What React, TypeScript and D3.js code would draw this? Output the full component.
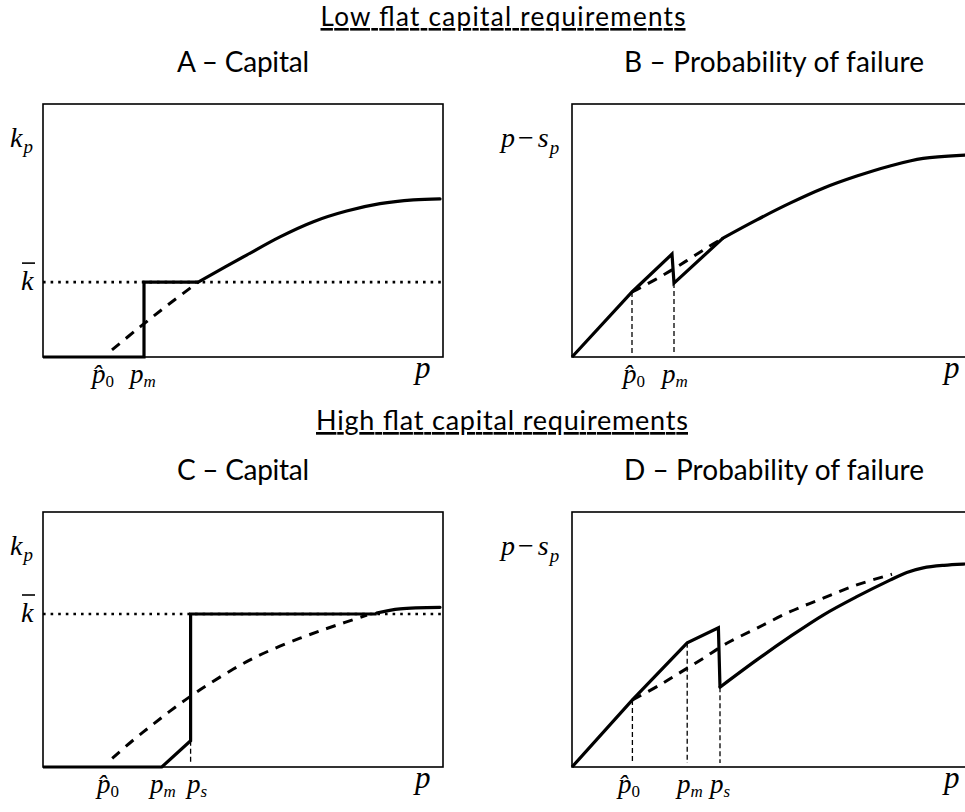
import React from "react";
import * as d3 from "d3";

type Pt = [number, number];

// A – capital, low flat requirement (p and k in 0..100 units of the box)
const kBarLow = 29.6;
const capStepLow: Pt[] = [[0, 0], [25.25, 0], [25.25, 29.6], [38.8, 29.6]];
const capUpperLow: Pt[] = [[38.8, 29.6], [50.9, 40.3], [59.25, 47.5], [67.6, 53.5], [75.9, 57.7], [84.25, 60.6], [92.6, 62.1], [99.25, 62.5]];
const capOptLow: Pt[] = [[17.25, 2.8], [24.25, 11.9], [31.25, 20.6], [38.8, 29.6]];

// B – probability of failure, low requirement
const pfLineLow: Pt[] = [[0, 0], [15, 25.7], [25, 40.7], [25.5, 29.2], [37.75, 47]];
const pfCurveLow: Pt[] = [[37.75, 47], [46.2, 54.2], [54.5, 60.8], [62.8, 66.7], [71.2, 71.5], [79.5, 75.5], [87.8, 78.5], [98.25, 79.8], [100, 79.9]];
const pfOptLow: Pt[] = [[15, 25.7], [17, 27.3], [23.25, 32.8], [28.5, 37.9], [33.25, 42.7], [37.75, 47]];
const pfGuidesLow: Pt[] = [[15, 25.7], [25.5, 29.2]];

// C – capital, high flat requirement
const kBarHigh = 60;
const capStepHigh: Pt[] = [[0, 0], [29.7, 0], [36.9, 10.3], [36.9, 60], [83.4, 60]];
const capUpperHigh: Pt[] = [[83.4, 60.4], [89.25, 62], [99.25, 62.6]];
const capOptHigh: Pt[] = [[17.3, 3.4], [22.6, 10.6], [26.75, 15.8], [31.5, 21.6], [36.75, 27.6], [41.75, 32.8], [47.6, 38.4], [52.5, 42.6], [57.6, 46.3], [64.25, 50.5], [70, 53.8], [75.5, 56.7], [81, 59.6]];
const capGuidesHigh: Pt[] = [[36.9, 10.3]];

// D – probability of failure, high requirement
const pfLineHigh: Pt[] = [[0, 0], [15.1, 26.3], [28.8, 48.7], [36.6, 54.6], [37, 31.3]];
const pfCurveHigh: Pt[] = [[37, 31.3], [46.2, 42], [54.5, 51.1], [62.8, 59.6], [71.2, 66.8], [79.5, 73.3], [83.7, 76.3], [87.8, 78.1], [93, 79.1], [98.25, 79.6], [100, 79.7]];
const pfOptHigh: Pt[] = [[15.1, 26.3], [22, 32.2], [27.4, 37.4], [32.8, 42.6], [38.7, 48.5], [46.2, 54.4], [54.5, 60.9], [62.8, 66.2], [71.2, 71.4], [80, 75.6]];
const pfGuidesHigh: Pt[] = [[15.1, 26.3], [28.8, 48.7], [37, 31.3]];

// p-axis labels: subscript, hat, position along p
type Lab = { sub: string; hat?: boolean; at: number };
const labelsA: Lab[] = [{ sub: "0", hat: true, at: 12.25 }, { sub: "m", at: 21.75 }];
const labelsB: Lab[] = [{ sub: "0", hat: true, at: 12.75 }, { sub: "m", at: 22.5 }];
const labelsC: Lab[] = [{ sub: "0", hat: true, at: 13.5 }, { sub: "m", at: 26.75 }, { sub: "s", at: 36 }];
const labelsD: Lab[] = [{ sub: "0", hat: true, at: 11.5 }, { sub: "m", at: 26.25 }, { sub: "s", at: 34.5 }];

const titles = ["Low flat capital requirements", "High flat capital requirements"];
const panelTitles = ["A \u2013 Capital", "B \u2013 Probability of failure", "C \u2013 Capital", "D \u2013 Probability of failure"];

const serif = '"Liberation Serif", "Times New Roman", "DejaVu Serif", serif';
const sans = "Lato";

type Box = { x: number; y: number; w: number; h: number };

type PanelProps = {
  box: Box;
  solid: Pt[][];
  curves: Pt[][];
  dashed: Pt[];
  guides: Pt[];
  labels: Lab[];
  kBar?: number;
  yLab: "k" | "ps";
};

const mathStyle = { fontFamily: serif, fontStyle: "italic" as const };

function Panel({ box, solid, curves, dashed, guides, labels, kBar, yLab }: PanelProps) {
  const x = d3.scaleLinear().domain([0, 100]).range([box.x, box.x + box.w]);
  const y = d3.scaleLinear().domain([0, 100]).range([box.y + box.h, box.y]);
  const straight = d3.line<Pt>().x(d => x(d[0])).y(d => y(d[1]));
  const smooth = d3.line<Pt>().x(d => x(d[0])).y(d => y(d[1])).curve(d3.curveCatmullRom.alpha(0.5));
  const axisY = y(0);

  return (
    <g>
      <rect x={box.x} y={box.y} width={box.w} height={box.h} fill="none" stroke="#000" strokeWidth={1.6} />
      {kBar !== undefined && (
        <line x1={x(0)} x2={x(100)} y1={y(kBar)} y2={y(kBar)} stroke="#000" strokeWidth={2.6} strokeDasharray="2.6,5" />
      )}
      {guides.map((g, i) => (
        <line key={i} x1={x(g[0])} x2={x(g[0])} y1={y(g[1])} y2={axisY - 4} stroke="#000" strokeWidth={1.3} strokeDasharray="5,3" />
      ))}
      <path d={smooth(dashed) || ""} fill="none" stroke="#000" strokeWidth={3} strokeDasharray="10,8" />
      {solid.map((s, i) => (
        <path key={"s" + i} d={straight(s) || ""} fill="none" stroke="#000" strokeWidth={3.2} strokeLinejoin="miter" />
      ))}
      {curves.map((s, i) => (
        <path key={"c" + i} d={smooth(s) || ""} fill="none" stroke="#000" strokeWidth={3.2} strokeLinecap="round" />
      ))}

      {/* y label */}
      {yLab === "k" ? (
        <text x={box.x - 33} y={y(83)} style={mathStyle} fontSize={28}>
          k<tspan fontSize={19} dy={6} dx={1}>p</tspan>
        </text>
      ) : (
        <text x={box.x - 71} y={y(83)} style={mathStyle} fontSize={28}>
          p<tspan style={{ fontStyle: "normal" }} dx={3}>{"\u2212"}</tspan><tspan dx={4}>s</tspan>
          <tspan fontSize={19} dy={7} dx={1}>p</tspan>
        </text>
      )}
      {kBar !== undefined && (
        <g>
          <line x1={box.x - 21} x2={box.x - 8} y1={y(kBar) - 19} y2={y(kBar) - 19} stroke="#000" strokeWidth={1.6} />
          <text x={box.x - 22} y={y(kBar) + 8} style={mathStyle} fontSize={28}>k</text>
        </g>
      )}

      {/* p labels */}
      {labels.map((l, i) => (
        <text key={"l" + i} x={x(l.at)} y={axisY + 26} style={mathStyle} fontSize={27}>
          {l.hat ? "p\u0302" : "p"}
          <tspan fontSize={17} dy={4} style={{ fontStyle: l.sub === "0" ? "normal" : "italic" }}>{l.sub}</tspan>
        </text>
      ))}
      <text x={x(93)} y={axisY + 21} style={mathStyle} fontSize={31}>p</text>
    </g>
  );
}

export default function App() {
  const A: Box = { x: 43, y: 104, w: 400, h: 253 };
  const B: Box = { x: 572, y: 104, w: 400, h: 253 };
  const C: Box = { x: 43, y: 512, w: 400, h: 255 };
  const D: Box = { x: 572, y: 512, w: 400, h: 255 };
  const ts = { fontFamily: sans };

  return (
    <svg width={965} height={812} style={{ position: "absolute", left: 0, top: 0, background: "#fff" }}>
      <rect width={965} height={812} fill="#fff" />
      <text x={503} y={26} textAnchor="middle" fontSize={26} textLength={365} lengthAdjust="spacing" style={{ ...ts, textDecoration: "underline" }}>{titles[0]}</text>
      <text x={243} y={72} textAnchor="middle" fontSize={28} textLength={132} lengthAdjust="spacing" style={ts}>{panelTitles[0]}</text>
      <text x={774} y={72} textAnchor="middle" fontSize={28} textLength={300} lengthAdjust="spacing" style={ts}>{panelTitles[1]}</text>
      <text x={502} y={430} textAnchor="middle" fontSize={27} textLength={372} lengthAdjust="spacing" style={{ ...ts, textDecoration: "underline" }}>{titles[1]}</text>
      <text x={243} y={480} textAnchor="middle" fontSize={28} textLength={132} lengthAdjust="spacing" style={ts}>{panelTitles[2]}</text>
      <text x={774} y={480} textAnchor="middle" fontSize={28} textLength={300} lengthAdjust="spacing" style={ts}>{panelTitles[3]}</text>

      <Panel box={A} solid={[capStepLow]} curves={[capUpperLow]} dashed={capOptLow} guides={[]} labels={labelsA} kBar={kBarLow} yLab="k" />
      <Panel box={B} solid={[pfLineLow]} curves={[pfCurveLow]} dashed={pfOptLow} guides={pfGuidesLow} labels={labelsB} yLab="ps" />
      <Panel box={C} solid={[capStepHigh]} curves={[capUpperHigh]} dashed={capOptHigh} guides={capGuidesHigh} labels={labelsC} kBar={kBarHigh} yLab="k" />
      <Panel box={D} solid={[pfLineHigh]} curves={[pfCurveHigh]} dashed={pfOptHigh} guides={pfGuidesHigh} labels={labelsD} yLab="ps" />
    </svg>
  );
}
